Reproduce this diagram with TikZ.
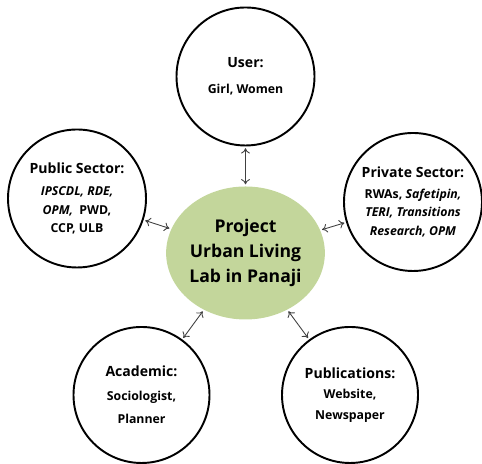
\documentclass[tikz,border=0pt]{standalone}
\usepackage{fontspec}
\setmainfont{Open Sans}
\usetikzlibrary{shapes.geometric,arrows.meta}
\definecolor{hubgreen}{RGB}{195,214,155}
\tikzstyle{actor} = [draw, circle, line width=1.1pt, minimum size=2.76cm, inner sep=0pt, align=center, font=\bfseries\fontsize{7}{10.5}\selectfont]
\tikzstyle{hub} = [ellipse, fill=hubgreen, minimum width=2.9cm, minimum height=2.66cm, inner sep=0pt, align=center, font=\bfseries\fontsize{10}{14.2}\selectfont]
\tikzstyle{link} = [{To[length=3pt,width=5pt]}-{To[length=3pt,width=5pt]}, black!75, line width=0.5pt, shorten <=1pt, shorten >=1pt]
\newcommand{\heading}[1]{{\fontsize{8}{10}\selectfont #1}}

\begin{document}
\begin{tikzpicture}
	\useasboundingbox (0,0) rectangle (9.64,9.28);
	\node[hub] (hub) at (4.91,4.22) {Project\\Urban Living\\Lab in Panaji};
	\node[actor] (user) at (4.91,7.75) {\heading{User:}\\[4pt] Girl, Women};
	\node[actor] (public) at (1.54,5.31) {\heading{Public Sector:}\\[2pt] \textit{IPSCDL, RDE,}\\ \textit{OPM,}\ \ PWD,\\ CCP, ULB};
	\node[actor] (private) at (8.26,5.24) {\heading{Private Sector:}\\[1pt] RWAs, \textit{Safetipin,}\\ \textit{TERI, Transitions}\\ \textit{Research, OPM}};
	\node[actor, minimum size=2.72cm] (academic) at (2.83,1.38) {\heading{Academic:}\\[3pt] Sociologist,\\[3pt] Planner};
	\node[actor, minimum size=2.72cm] (pubs) at (7.0,1.38) {\heading{Publications:}\\[1pt] Website,\\[1pt] Newspaper};
	% links to the hub
	\draw[link] (user) -- (hub);
	\draw[link] (public) -- (hub);
	\draw[link] (private) -- (hub);
	\draw[link] (academic) -- (hub);
	\draw[link] (pubs) -- (hub);
\end{tikzpicture}
\end{document}
